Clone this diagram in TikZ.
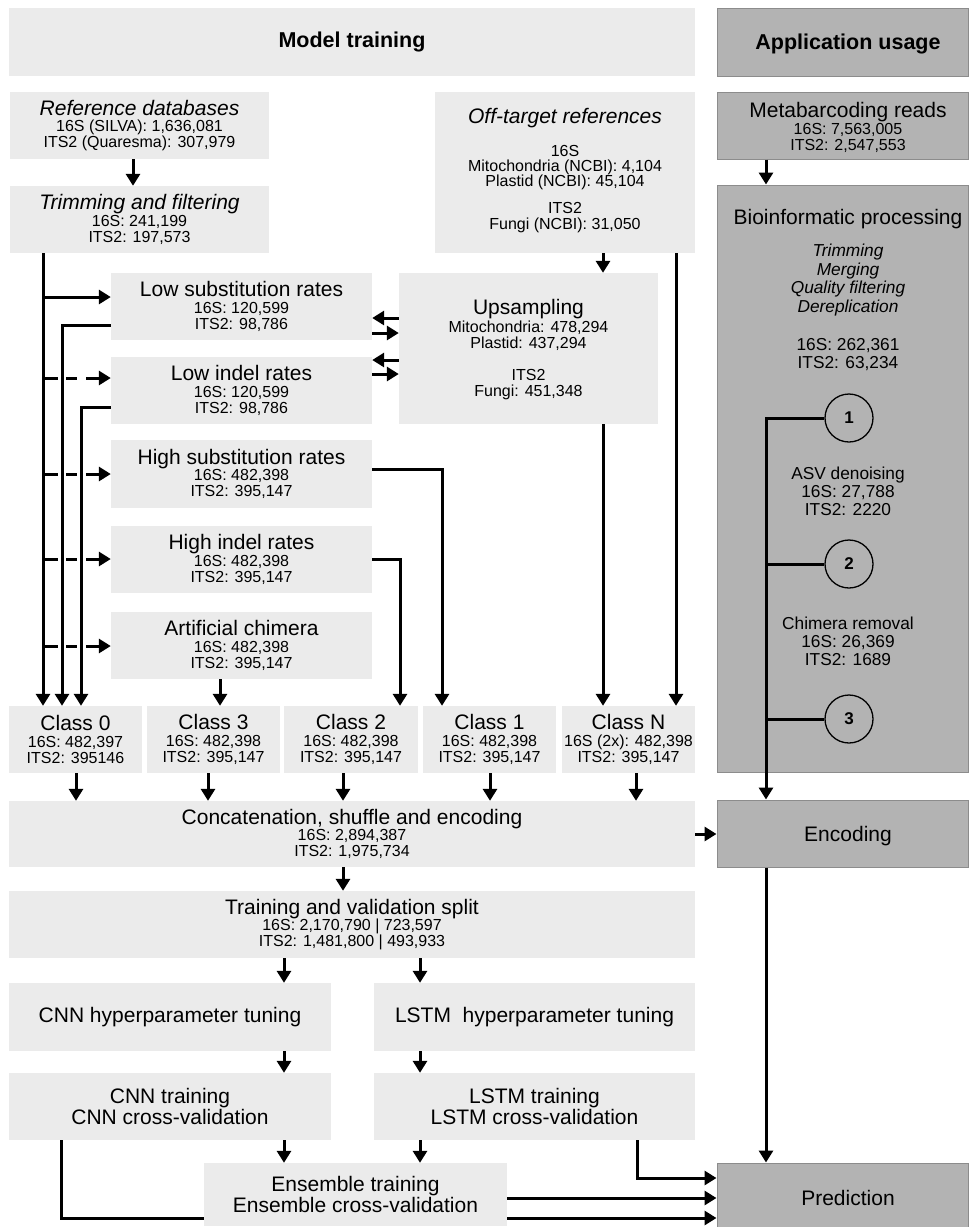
\documentclass[tikz,border=0pt]{standalone}
\usepackage{fontspec}
\setmainfont{Liberation Sans}
\usetikzlibrary{arrows.meta}
\definecolor{lightg}{RGB}{235,235,235}
\definecolor{darkg}{RGB}{179,179,179}
\definecolor{borderg}{RGB}{140,140,140}
\newcommand\bigf{\fontsize{21}{21}\selectfont}
\newcommand\smf{\fontsize{16}{16.3}\selectfont}
\newcommand\bif{\fontsize{17.3}{18}\selectfont}
\newcommand\titf{\fontsize{21.5}{24}\selectfont\bfseries}
\begin{document}
\begin{tikzpicture}[x=1pt,y=-1pt,
  box/.style={fill=lightg, inner sep=0pt, align=center, font=\smf},
  dbox/.style={fill=darkg, draw=borderg, line width=1pt, inner sep=0pt},
  conn/.style={line width=3pt, -{Triangle[width=14pt,length=12pt]}},
  plainline/.style={line width=3pt},
  dpat/.style={dash pattern=on 15pt off 8pt on 11pt off 9pt on 80pt},
  sm/.style={font=\smf, anchor=base, inner sep=0pt},
  bi/.style={font=\bif, anchor=base, inner sep=0pt},
  bii/.style={font=\bif\itshape, anchor=base, inner sep=0pt},
  bg/.style={font=\bigf, anchor=base, inner sep=0pt},
  bgi/.style={font=\bigf\itshape, anchor=base, inner sep=0pt},
  tit/.style={font=\titf, anchor=base, inner sep=0pt},
  circ/.style={circle, draw=black, line width=1.3pt, minimum size=48pt, inner sep=0pt, font=\fontsize{17}{17}\selectfont\bfseries},
]
\fill[white] (0,0) rectangle (969,1227);
\useasboundingbox (0,0) rectangle (969,1227);

% helper coordinates
\coordinate (xA) at (43,0);
\coordinate (xB) at (62,0);
\coordinate (xC) at (81,0);
\coordinate (xRef) at (133,0);
\coordinate (xChim) at (220,0);
\coordinate (xHI) at (400,0);
\coordinate (xHS) at (442,0);
\coordinate (xUp) at (603,0);
\coordinate (xOff) at (676,0);
\coordinate (xK0) at (76,0);
\coordinate (xK3) at (208,0);
\coordinate (xK2) at (343,0);
\coordinate (xK1) at (490,0);
\coordinate (xKN) at (636,0);
\coordinate (xL) at (284,0);
\coordinate (xR) at (420,0);
\coordinate (xCnn) at (61,0);
\coordinate (xLstm) at (637,0);
\coordinate (xApp) at (766,0);
\coordinate (yLS) at (0,297);
\coordinate (yLI) at (0,378);
\coordinate (yHS) at (0,474);
\coordinate (yHI) at (0,559);
\coordinate (yCh) at (0,646);
\coordinate (yB) at (0,325);
\coordinate (yC) at (0,407);
\coordinate (yHSo) at (0,469);
\coordinate (yD1) at (0,318);
\coordinate (yD2) at (0,333);
\coordinate (yD3) at (0,360);
\coordinate (yD4) at (0,374);
\coordinate (yEnc) at (0,834);
\coordinate (yP1) at (0,1178);
\coordinate (yP2) at (0,1198);
\coordinate (yP3) at (0,1218);

% header
\node[box, minimum width=686pt, minimum height=68pt, font=\titf] (mt) at (352,42) {Model training};
\node[dbox, minimum width=251pt, minimum height=68pt] (au) at (842.5,42) {};
\node[tit] (aut) at (848,49.5) {Application usage};

% left column
\node[box, minimum width=259pt, minimum height=67pt] (refdb) at (139.5,125.5)
  {{\bigf\itshape Reference databases}\\16S (SILVA): 1,636,081\\ITS2 (Quaresma): 307,979};
\node[box, minimum width=259pt, minimum height=67pt] (trim) at (139.5,219.5)
  {{\bigf\itshape Trimming and filtering}\\16S: 241,199\\ITS2: 197,573};

\node[box, minimum width=260pt, minimum height=161pt] (off) at (565,172.5) {};
\node[bgi] at (565,123.5) {Off-target references};
\node[sm] at (565,156.5) {16S};
\node[sm] at (565,171.5) {Mitochondria (NCBI): 4,104};
\node[sm] at (565,186.5) {Plastid (NCBI): 45,104};
\node[sm] at (565,213.5) {ITS2};
\node[sm] at (565,229.5) {Fungi (NCBI): 31,050};

\node[box, minimum width=259pt, minimum height=151pt] (ups) at (528.5,348.5) {};
\node[bg] at (528.5,314.5) {Upsampling};
\node[sm] at (528.5,332.5) {Mitochondria: 478,294};
\node[sm] at (528.5,348.5) {Plastid: 437,294};
\node[sm] at (528.5,380.5) {ITS2};
\node[sm] at (528.5,396.5) {Fungi: 451,348};

\node[box, minimum width=261pt, minimum height=67pt] (lowsub) at (241.5,306.5)
  {{\bigf Low substitution rates}\\16S: 120,599\\ITS2: 98,786};
\node[box, minimum width=261pt, minimum height=67pt] (lowind) at (241.5,390.5)
  {{\bigf Low indel rates}\\16S: 120,599\\ITS2: 98,786};
\node[box, minimum width=261pt, minimum height=68pt] (highsub) at (241.5,474)
  {{\bigf High substitution rates}\\16S: 482,398\\ITS2: 395,147};
\node[box, minimum width=261pt, minimum height=67pt] (highind) at (241.5,559.5)
  {{\bigf High indel rates}\\16S: 482,398\\ITS2: 395,147};
\node[box, minimum width=261pt, minimum height=67pt] (chim) at (241.5,645.5)
  {{\bigf Artificial chimera}\\16S: 482,398\\ITS2: 395,147};

% classes
\node[box, minimum width=133pt, minimum height=67pt] (class0) at (75.5,739.5)
  {{\bigf Class 0}\\16S: 482,397\\ITS2: 395146};
\node[box, minimum width=133pt, minimum height=67pt] (class3) at (213.5,739.5)
  {{\bigf Class 3}\\16S: 482,398\\ITS2: 395,147};
\node[box, minimum width=134pt, minimum height=67pt] (class2) at (351,739.5)
  {{\bigf Class 2}\\16S: 482,398\\ITS2: 395,147};
\node[box, minimum width=133pt, minimum height=67pt] (class1) at (489.5,739.5)
  {{\bigf Class 1}\\16S: 482,398\\ITS2: 395,147};
\node[box, minimum width=133pt, minimum height=67pt] (classN) at (628.5,739.5)
  {{\bigf Class N}\\16S (2x): 482,398\\ITS2: 395,147};

\node[box, minimum width=686pt, minimum height=66pt] (concat) at (352,834)
  {{\bigf Concatenation, shuffle and encoding}\\16S: 2,894,387\\ITS2: 1,975,734};
\node[box, minimum width=686pt, minimum height=67pt] (split) at (352,924.5)
  {{\bigf Training and validation split}\\16S: 2,170,790 | 723,597\\ITS2: 1,481,800 | 493,933};

\node[box, minimum width=322pt, minimum height=68pt, font=\bigf] (cnnh) at (170,1017) {CNN hyperparameter tuning};
\node[box, minimum width=321pt, minimum height=68pt, font=\bigf] (lstmh) at (534.5,1017) {LSTM~ hyperparameter tuning};
\node[box, minimum width=322pt, minimum height=67pt, font=\bigf] (cnnt) at (170,1106.5) {CNN training\\CNN cross-validation};
\node[box, minimum width=321pt, minimum height=67pt, font=\bigf] (lstmt) at (534.5,1106.5) {LSTM training\\LSTM cross-validation};

% right column
\node[dbox, minimum width=251pt, minimum height=67pt] (meta) at (842.5,125.5) {};
\node[bg] at (848,117.5) {Metabarcoding reads};
\node[sm] at (848,134) {16S: 7,563,005};
\node[sm] at (848,150.5) {ITS2: 2,547,553};

\node[dbox, minimum width=251pt, minimum height=587pt] (bio) at (842.5,478.5) {};
\node[bg] at (848,224) {Bioinformatic processing};
\node[bii] at (848,256.5) {Trimming};
\node[bii] at (848,275) {Merging};
\node[bii] at (848,293.5) {Quality filtering};
\node[bii] at (848,312) {Dereplication};
\node[bi] at (848,350.5) {16S: 262,361};
\node[bi] at (848,368.5) {ITS2: 63,234};
\node[bi] at (848,479) {ASV denoising};
\node[bi] at (848,497) {16S: 27,788};
\node[bi] at (848,515.5) {ITS2: 2220};
\node[bi] at (848,629) {Chimera removal};
\node[bi] at (848,647) {16S: 26,369};
\node[bi] at (848,665.5) {ITS2: 1689};

\node[circ] (c1) at (849,418) {1};
\node[circ] (c2) at (849,564) {2};
\node[circ] (c3) at (849,719) {3};

\node[dbox, minimum width=251pt, minimum height=67pt] (enc) at (842.5,833.5) {};
\node[bg] at (848,841) {Encoding};
\node[dbox, minimum width=251pt, minimum height=65pt] (pred) at (842.5,1195.5) {};
\node[bg] at (848,1205.5) {Prediction};

% connectors
\draw[conn] (refdb.south -| xRef) -- (trim.north -| xRef);
\draw[conn] (trim.south -| xA) -- (class0.north -| xA);
\draw[conn] (xA |- yLS) -- (lowsub.west |- yLS);
\draw[conn,dpat] (xA |- yLI) -- (lowind.west |- yLI);
\draw[conn,dpat] (xA |- yHS) -- (highsub.west |- yHS);
\draw[conn,dpat] (xA |- yHI) -- (highind.west |- yHI);
\draw[conn,dpat] (xA |- yCh) -- (chim.west |- yCh);
\draw[conn] (lowsub.west |- yB) -| (class0.north -| xB);
\draw[conn] (lowind.west |- yC) -| (class0.north -| xC);
\draw[conn] (chim.south -| xChim) -- (class3.north -| xChim);
\draw[conn] (highind.east |- yHI) -| (class2.north -| xHI);
\draw[conn] (highsub.east |- yHSo) -| (class1.north -| xHS);
\draw[conn] (off.south -| xUp) -- (ups.north -| xUp);
\draw[conn] (ups.south -| xUp) -- (classN.north -| xUp);
\draw[conn] (off.south -| xOff) -- (classN.north -| xOff);
\draw[conn] (ups.west |- yD1) -- (lowsub.east |- yD1);
\draw[conn] (lowsub.east |- yD2) -- (ups.west |- yD2);
\draw[conn] (ups.west |- yD3) -- (lowind.east |- yD3);
\draw[conn] (lowind.east |- yD4) -- (ups.west |- yD4);

\draw[conn] (class0.south -| xK0) -- (concat.north -| xK0);
\draw[conn] (class3.south -| xK3) -- (concat.north -| xK3);
\draw[conn] (class2.south -| xK2) -- (concat.north -| xK2);
\draw[conn] (class1.south -| xK1) -- (concat.north -| xK1);
\draw[conn] (classN.south -| xKN) -- (concat.north -| xKN);
\draw[conn] (concat.south -| xK2) -- (split.north -| xK2);
\draw[conn] (concat.east |- yEnc) -- (enc.west |- yEnc);
\draw[conn] (split.south -| xL) -- (cnnh.north -| xL);
\draw[conn] (split.south -| xR) -- (lstmh.north -| xR);
\draw[conn] (cnnh.south -| xL) -- (cnnt.north -| xL);
\draw[conn] (lstmh.south -| xR) -- (lstmt.north -| xR);

\draw[conn] (meta.south -| xApp) -- (bio.north -| xApp);
\draw[conn] (c1.west) -| (enc.north -| xApp);
\draw[plainline] (c2.west) -- (c2.west -| xApp);
\draw[plainline] (c3.west) -- (c3.west -| xApp);
\draw[conn] (enc.south -| xApp) -- (pred.north -| xApp);

\draw[conn] (cnnt.south -| xCnn) |- (pred.west |- yP3);
\draw[conn] (lstmt.south -| xLstm) |- (pred.west |- yP1);

\node[box, minimum width=303pt, minimum height=63pt, font=\bigf] (ens) at (355.5,1194.5) {Ensemble training\\Ensemble cross-validation};
\draw[conn] (cnnt.south -| xL) -- (ens.north -| xL);
\draw[conn] (lstmt.south -| xR) -- (ens.north -| xR);
\draw[conn] (ens.east |- yP2) -- (pred.west |- yP2);
\end{tikzpicture}
\end{document}
